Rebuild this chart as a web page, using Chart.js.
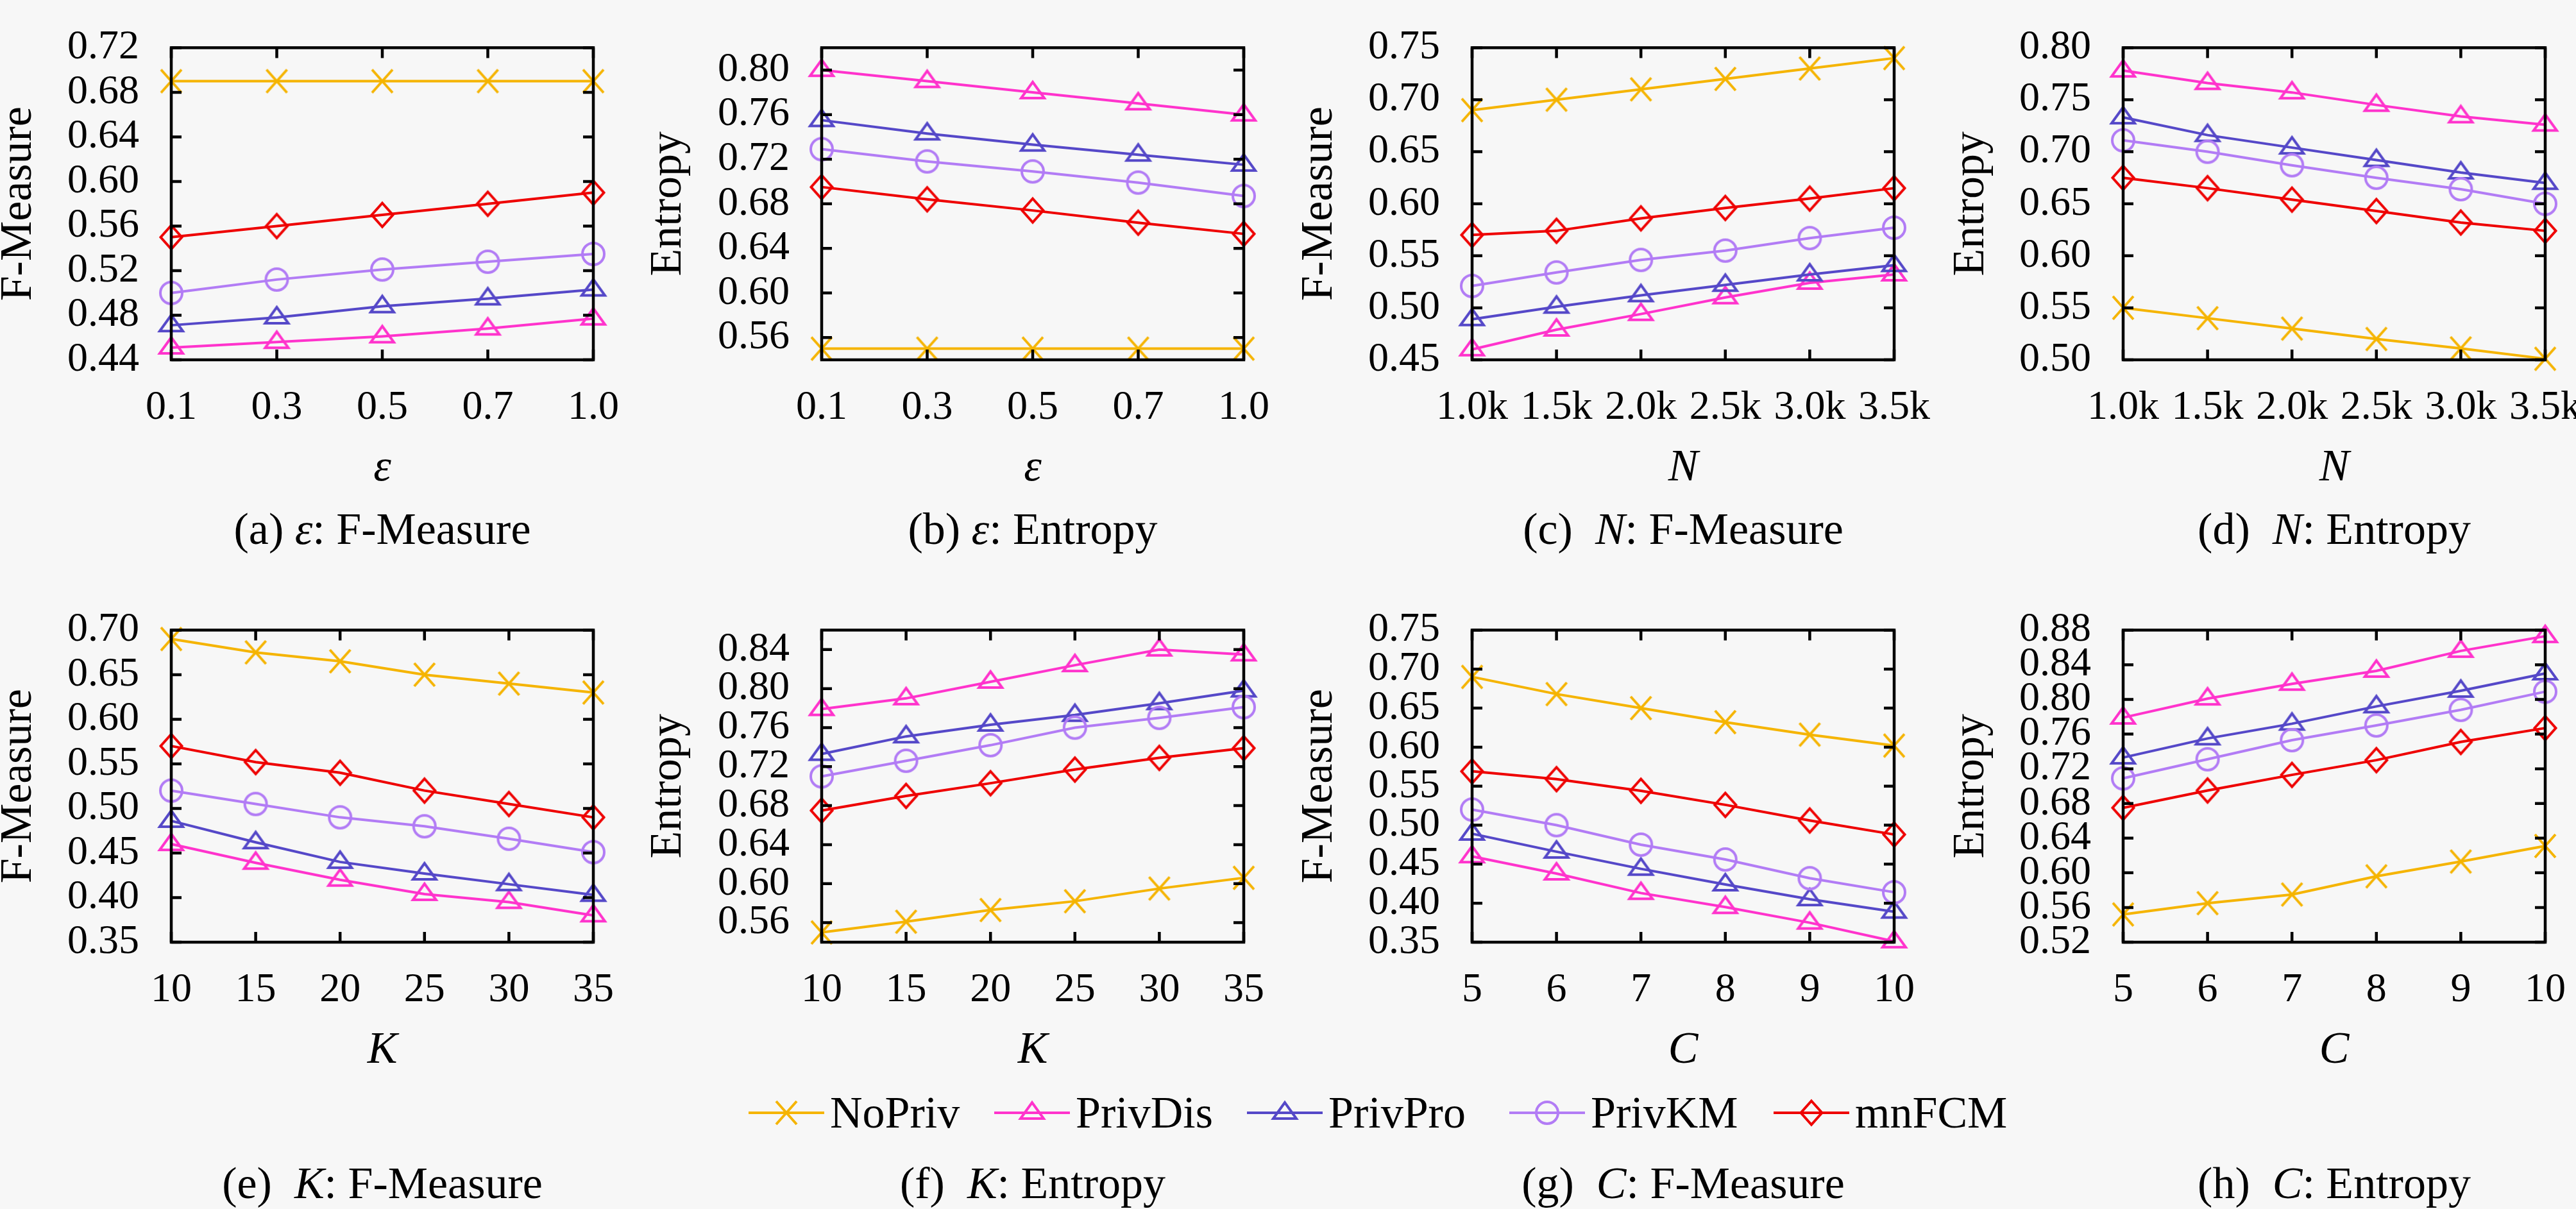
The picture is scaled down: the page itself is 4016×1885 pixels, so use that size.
<!DOCTYPE html>
<html>
<head>
<meta charset="utf-8">
<script src="https://cdn.jsdelivr.net/npm/chart.js@4.4.0/dist/chart.umd.min.js"></script>
<style>
  html, body { margin: 0; padding: 0; background: #f7f7f7; }
  body { width: 4016px; height: 1885px; position: relative; overflow: hidden; font-family: "Liberation Serif", serif; color: #000; }
  .panel { position: absolute; }
  .caption { position: absolute; width: 900px; text-align: center; font-size: 70px; line-height: 84px; white-space: nowrap; }
  .key-line { position: absolute; }
  .key-text { position: absolute; font-size: 70px; line-height: 84px; white-space: nowrap; }
</style>
</head>
<body>
<script>
// Series and x categories
const seriesNames = ['NoPriv', 'PrivDis', 'PrivPro', 'PrivKM', 'mnFCM'];
const seriesColors = ['#f5b400', '#ff33cc', '#5548c8', '#b27cf5', '#ee0000'];

const epsLabels = ['0.1', '0.3', '0.5', '0.7', '1.0'];
const nLabels = ['1.0k', '1.5k', '2.0k', '2.5k', '3.0k', '3.5k'];
const kLabels = ['10', '15', '20', '25', '30', '35'];
const cLabels = ['5', '6', '7', '8', '9', '10'];

// (a) epsilon: F-Measure
const aNoPriv = [0.69, 0.69, 0.69, 0.69, 0.69];
const aPrivDis = [0.451, 0.456, 0.461, 0.468, 0.477];
const aPrivPro = [0.471, 0.478, 0.488, 0.495, 0.503];
const aPrivKM = [0.500, 0.512, 0.521, 0.528, 0.535];
const aMnFCM = [0.550, 0.560, 0.570, 0.580, 0.590];
const aTicks = [0.44, 0.48, 0.52, 0.56, 0.60, 0.64, 0.68, 0.72];

// (b) epsilon: Entropy
const bNoPriv = [0.55, 0.55, 0.55, 0.55, 0.55];
const bPrivDis = [0.800, 0.790, 0.780, 0.770, 0.760];
const bPrivPro = [0.755, 0.743, 0.733, 0.724, 0.715];
const bPrivKM = [0.729, 0.718, 0.709, 0.699, 0.687];
const bMnFCM = [0.695, 0.684, 0.674, 0.663, 0.653];
const bTicks = [0.56, 0.60, 0.64, 0.68, 0.72, 0.76, 0.80];

// (c) N: F-Measure
const cNoPriv = [0.690, 0.700, 0.710, 0.720, 0.730, 0.740];
const cPrivDis = [0.460, 0.479, 0.494, 0.510, 0.524, 0.532];
const cPrivPro = [0.489, 0.501, 0.512, 0.522, 0.532, 0.541];
const cPrivKM = [0.521, 0.534, 0.546, 0.555, 0.567, 0.577];
const cMnFCM = [0.570, 0.574, 0.586, 0.596, 0.605, 0.615];
const cTicks = [0.45, 0.50, 0.55, 0.60, 0.65, 0.70, 0.75];

// (d) N: Entropy
const dNoPriv = [0.550, 0.540, 0.530, 0.520, 0.511, 0.501];
const dPrivDis = [0.778, 0.766, 0.757, 0.745, 0.734, 0.726];
const dPrivPro = [0.733, 0.716, 0.704, 0.692, 0.680, 0.670];
const dPrivKM = [0.711, 0.700, 0.687, 0.675, 0.664, 0.650];
const dMnFCM = [0.675, 0.665, 0.654, 0.643, 0.632, 0.624];
const dTicks = [0.50, 0.55, 0.60, 0.65, 0.70, 0.75, 0.80];

// (e) K: F-Measure
const eNoPriv = [0.690, 0.675, 0.665, 0.650, 0.640, 0.630];
const ePrivDis = [0.460, 0.439, 0.420, 0.404, 0.395, 0.380];
const ePrivPro = [0.486, 0.462, 0.440, 0.427, 0.415, 0.403];
const ePrivKM = [0.520, 0.505, 0.490, 0.480, 0.466, 0.451];
const eMnFCM = [0.570, 0.552, 0.540, 0.520, 0.505, 0.490];
const eTicks = [0.35, 0.40, 0.45, 0.50, 0.55, 0.60, 0.65, 0.70];

// (f) K: Entropy
const fNoPriv = [0.550, 0.561, 0.573, 0.582, 0.595, 0.606];
const fPrivDis = [0.779, 0.790, 0.807, 0.824, 0.840, 0.835];
const fPrivPro = [0.733, 0.751, 0.763, 0.773, 0.785, 0.798];
const fPrivKM = [0.710, 0.726, 0.742, 0.760, 0.770, 0.781];
const fMnFCM = [0.675, 0.690, 0.703, 0.717, 0.729, 0.739];
const fTicks = [0.56, 0.60, 0.64, 0.68, 0.72, 0.76, 0.80, 0.84];

// (g) C: F-Measure
const gNoPriv = [0.690, 0.668, 0.650, 0.632, 0.616, 0.602];
const gPrivDis = [0.460, 0.438, 0.413, 0.395, 0.375, 0.351];
const gPrivPro = [0.489, 0.466, 0.444, 0.424, 0.405, 0.389];
const gPrivKM = [0.520, 0.500, 0.475, 0.456, 0.432, 0.414];
const gMnFCM = [0.569, 0.559, 0.544, 0.526, 0.506, 0.488];
const gTicks = [0.35, 0.40, 0.45, 0.50, 0.55, 0.60, 0.65, 0.70, 0.75];

// (h) C: Entropy
const hNoPriv = [0.552, 0.565, 0.575, 0.596, 0.613, 0.631];
const hPrivDis = [0.779, 0.801, 0.818, 0.833, 0.856, 0.873];
const hPrivPro = [0.733, 0.755, 0.772, 0.792, 0.810, 0.830];
const hPrivKM = [0.709, 0.731, 0.753, 0.770, 0.788, 0.809];
const hMnFCM = [0.675, 0.695, 0.713, 0.730, 0.751, 0.767];
const hTicks = [0.52, 0.56, 0.60, 0.64, 0.68, 0.72, 0.76, 0.80, 0.84, 0.88];

// Panel setup: data refs + layout in page pixels
const panels = [
  { tag: 'a', param: 'ε', metric: 'F-Measure', labels: epsLabels, series: [aNoPriv, aPrivDis, aPrivPro, aPrivKM, aMnFCM], ticks: aTicks, min: 0.44, max: 0.72, left: 267, top: 36, titleX: 30, capY: 825 },
  { tag: 'b', param: 'ε', metric: 'Entropy', labels: epsLabels, series: [bNoPriv, bPrivDis, bPrivPro, bPrivKM, bMnFCM], ticks: bTicks, min: 0.54, max: 0.82, left: 1281, top: 36, titleX: 1043, capY: 825 },
  { tag: 'c', param: 'N', metric: 'F-Measure', labels: nLabels, series: [cNoPriv, cPrivDis, cPrivPro, cPrivKM, cMnFCM], ticks: cTicks, min: 0.45, max: 0.75, left: 2295, top: 36, titleX: 2058, capY: 825 },
  { tag: 'd', param: 'N', metric: 'Entropy', labels: nLabels, series: [dNoPriv, dPrivDis, dPrivPro, dPrivKM, dMnFCM], ticks: dTicks, min: 0.50, max: 0.80, left: 3310, top: 36, titleX: 3074, capY: 825 },
  { tag: 'e', param: 'K', metric: 'F-Measure', labels: kLabels, series: [eNoPriv, ePrivDis, ePrivPro, ePrivKM, eMnFCM], ticks: eTicks, min: 0.35, max: 0.70, left: 267, top: 944, titleX: 30, capY: 1845 },
  { tag: 'f', param: 'K', metric: 'Entropy', labels: kLabels, series: [fNoPriv, fPrivDis, fPrivPro, fPrivKM, fMnFCM], ticks: fTicks, min: 0.54, max: 0.86, left: 1281, top: 944, titleX: 1043, capY: 1845 },
  { tag: 'g', param: 'C', metric: 'F-Measure', labels: cLabels, series: [gNoPriv, gPrivDis, gPrivPro, gPrivKM, gMnFCM], ticks: gTicks, min: 0.35, max: 0.75, left: 2295, top: 944, titleX: 2058, capY: 1845 },
  { tag: 'h', param: 'C', metric: 'Entropy', labels: cLabels, series: [hNoPriv, hPrivDis, hPrivPro, hPrivKM, hMnFCM], ticks: hTicks, min: 0.52, max: 0.88, left: 3310, top: 944, titleX: 3074, capY: 1845 }
];

const plotW = 658, plotH = 525;
const padTop = 50, padRight = 100, xAxisH = 212;
const fontFamily = '"Liberation Serif", serif';
const lineW = 4;

// open gnuplot-style markers drawn once and reused as pointStyle
function makeMarker(shape, color) {
  const c = document.createElement('canvas');
  c.width = 48; c.height = 48;
  const g = c.getContext('2d');
  const cx = 24, cy = 24;
  g.strokeStyle = color;
  g.lineWidth = lineW;
  g.beginPath();
  if (shape === 'cross') {
    g.moveTo(cx - 16, cy - 18); g.lineTo(cx + 16, cy + 18);
    g.moveTo(cx + 16, cy - 18); g.lineTo(cx - 16, cy + 18);
  } else if (shape === 'triangle') {
    g.moveTo(cx, cy - 16); g.lineTo(cx + 18, cy + 9); g.lineTo(cx - 18, cy + 9); g.closePath();
  } else if (shape === 'circle') {
    g.arc(cx, cy, 17, 0, Math.PI * 2);
  } else {
    g.moveTo(cx, cy - 18.5); g.lineTo(cx + 16.5, cy); g.lineTo(cx, cy + 18.5); g.lineTo(cx - 16.5, cy); g.closePath();
  }
  g.stroke();
  return c;
}
const markerShapes = ['cross', 'triangle', 'triangle', 'circle', 'diamond'];
const markers = markerShapes.map((s, i) => makeMarker(s, seriesColors[i]));

// border box with inward ticks on all four sides
const framePlugin = {
  id: 'frame',
  afterDatasetsDraw(chart) {
    const { ctx, chartArea: a, scales } = chart;
    const tl = 16;
    ctx.save();
    ctx.strokeStyle = '#000';
    ctx.lineWidth = 4.5;
    ctx.beginPath();
    scales.y.ticks.forEach((t, i) => {
      const py = scales.y.getPixelForTick(i);
      ctx.moveTo(a.left, py); ctx.lineTo(a.left + tl, py);
      ctx.moveTo(a.right, py); ctx.lineTo(a.right - tl, py);
    });
    scales.x.ticks.forEach((t, i) => {
      const px = scales.x.getPixelForTick(i);
      ctx.moveTo(px, a.bottom); ctx.lineTo(px, a.bottom - tl);
      ctx.moveTo(px, a.top); ctx.lineTo(px, a.top + tl);
    });
    ctx.stroke();
    ctx.strokeRect(a.left, a.top, a.right - a.left, a.bottom - a.top);
    ctx.restore();
  }
};

panels.forEach(p => {
  const yW = p.left - (p.titleX - 42);
  const div = document.createElement('div');
  div.className = 'panel';
  div.style.left = (p.left - yW) + 'px';
  div.style.top = (p.top - padTop) + 'px';
  const canvas = document.createElement('canvas');
  canvas.width = yW + plotW + padRight;
  canvas.height = padTop + plotH + xAxisH;
  canvas.style.width = canvas.width + 'px';
  canvas.style.height = canvas.height + 'px';
  div.appendChild(canvas);
  document.body.appendChild(div);

  new Chart(canvas.getContext('2d'), {
    type: 'line',
    data: {
      labels: p.labels,
      datasets: p.series.map((vals, i) => ({
        label: seriesNames[i],
        data: vals,
        borderColor: seriesColors[i],
        borderWidth: lineW,
        pointStyle: markers[i],
        pointRadius: 18,
        fill: false,
        tension: 0,
        clip: false,
        order: 4 - i
      }))
    },
    options: {
      responsive: false,
      animation: false,
      devicePixelRatio: 1,
      layout: { padding: { top: padTop, right: padRight, left: 0, bottom: 0 } },
      plugins: { legend: { display: false }, tooltip: { enabled: false } },
      scales: {
        x: {
          type: 'category',
          offset: false,
          grid: { display: false, drawTicks: false },
          border: { display: false },
          ticks: { color: '#000', font: { family: fontFamily, size: 64 }, padding: 37, autoSkip: false, maxRotation: 0, minRotation: 0 },
          title: { display: true, text: p.param, color: '#000', padding: 0, font: { family: fontFamily, size: 70, style: 'italic' } },
          afterFit(s) { s.height = xAxisH; }
        },
        y: {
          min: p.min,
          max: p.max,
          grid: { display: false, drawTicks: false },
          border: { display: false },
          afterBuildTicks(s) { s.ticks = p.ticks.map(v => ({ value: v })); },
          ticks: { color: '#000', font: { family: fontFamily, size: 64 }, padding: 50, autoSkip: false, callback: v => Number(v).toFixed(2) },
          title: { display: true, text: p.metric, color: '#000', padding: 0, font: { family: fontFamily, size: 70 } },
          afterFit(s) { s.width = yW; }
        }
      }
    },
    plugins: [framePlugin]
  });

  const cap = document.createElement('div');
  cap.className = 'caption';
  cap.style.left = (p.left + plotW / 2 - 450) + 'px';
  cap.style.top = (p.capY - 42) + 'px';
  const sep = p.tag === 'a' || p.tag === 'b' ? ' ' : '\u2002';
  cap.innerHTML = '(' + p.tag + ')' + sep + '<i>' + p.param + '</i>: ' + p.metric;
  document.body.appendChild(cap);
});

// shared key under the bottom row
const keyLineX = [1167, 1550, 1944, 2353, 2765];
const keyY = 1735;
seriesNames.forEach((name, i) => {
  const c = document.createElement('canvas');
  c.className = 'key-line';
  c.width = 118; c.height = 50;
  c.style.left = keyLineX[i] + 'px';
  c.style.top = (keyY - 25) + 'px';
  const g = c.getContext('2d');
  g.strokeStyle = seriesColors[i];
  g.lineWidth = lineW;
  g.beginPath(); g.moveTo(0, 25); g.lineTo(118, 25); g.stroke();
  g.drawImage(markers[i], 59 - 24, 25 - 24);
  document.body.appendChild(c);

  const t = document.createElement('div');
  t.className = 'key-text';
  t.textContent = name;
  t.style.left = (keyLineX[i] + 127) + 'px';
  t.style.top = (keyY - 42) + 'px';
  document.body.appendChild(t);
});
</script>
</body>
</html>
